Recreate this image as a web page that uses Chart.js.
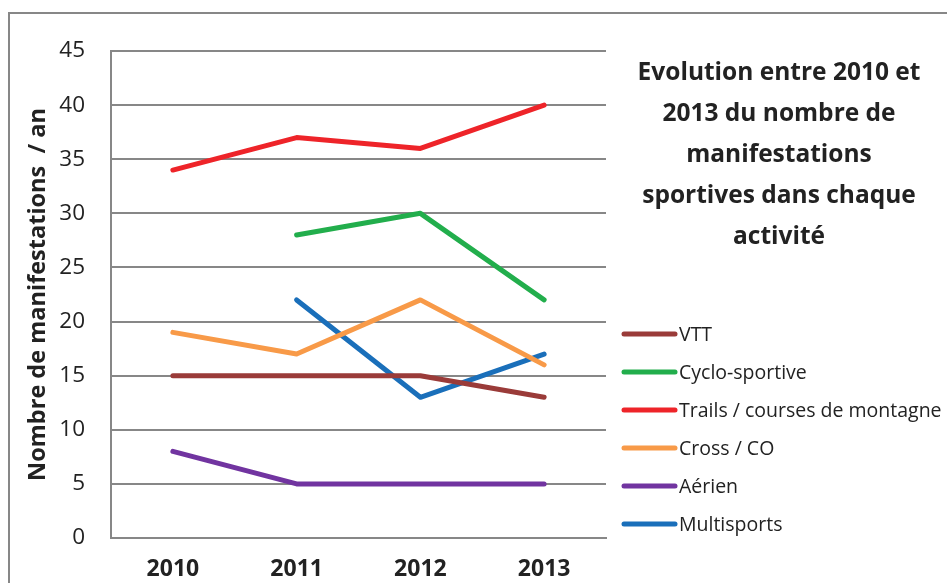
<!DOCTYPE html>
<html>
<head>
<meta charset="utf-8">
<script src="https://cdn.jsdelivr.net/npm/chart.js@4"></script>
<style>
  html, body { margin: 0; padding: 0; background: #fff; }
  #wrap { width: 947px; height: 583px; }
</style>
</head>
<body>
<div id="wrap"><canvas id="chart" width="947" height="583"></canvas></div>
<script>
const years = ['2010', '2011', '2012', '2013'];
const vtt = [15, 15, 15, 13];
const cyclo = [null, 28, 30, 22];
const trails = [34, 37, 36, 40];
const cross = [19, 17, 22, 16];
const aerien = [8, 5, 5, 5];
const multisports = [null, 22, 13, 17];
const yTicks = [0, 5, 10, 15, 20, 25, 30, 35, 40, 45];
const titleLines = [
  'Evolution entre 2010 et',
  '2013 du nombre de',
  'manifestations',
  'sportives dans chaque',
  'activité'
];

const FONT = '"Open Sans", Lato, sans-serif';
const GRID = '#878787';

function series(label, data, color) {
  return {
    label,
    data,
    borderColor: color,
    backgroundColor: color,
    borderWidth: 5,
    borderCapStyle: 'round',
    borderJoinStyle: 'round',
    pointRadius: 0,
    pointHoverRadius: 0,
    tension: 0,
    spanGaps: false
  };
}

// cadre gris, titre et légende à droite
const decor = {
  id: 'decor',
  beforeDraw(chart) {
    const ctx = chart.ctx;
    ctx.save();
    ctx.strokeStyle = GRID;
    ctx.lineWidth = 2;
    ctx.strokeRect(9, 13, 1000, 1000);
    ctx.restore();
  },
  afterDraw(chart) {
    const ctx = chart.ctx;
    ctx.save();
    ctx.fillStyle = '#222';
    ctx.textAlign = 'center';
    ctx.textBaseline = 'middle';
    ctx.font = 'bold 24.5px ' + FONT;
    titleLines.forEach((line, i) => {
      ctx.fillText(line, 779, 73 + i * 41);
    });

    ctx.textAlign = 'left';
    ctx.font = '19.5px ' + FONT;
    chart.data.datasets.forEach((ds, i) => {
      const y = 334 + i * 38;
      ctx.strokeStyle = ds.borderColor;
      ctx.lineWidth = 5;
      ctx.lineCap = 'round';
      ctx.beginPath();
      ctx.moveTo(624, y);
      ctx.lineTo(675, y);
      ctx.stroke();
      ctx.fillStyle = '#222';
      ctx.fillText(ds.label, 679, y + 1);
    });
    ctx.restore();
  }
};

new Chart(document.getElementById('chart'), {
  type: 'line',
  data: {
    labels: years,
    datasets: [
      series('VTT', vtt, '#9A3B39'),
      series('Cyclo-sportive', cyclo, '#22AE4C'),
      series('Trails / courses de montagne', trails, '#EE2429'),
      series('Cross / CO', cross, '#F89A48'),
      series('Aérien', aerien, '#7134A0'),
      series('Multisports', multisports, '#1A6FBA')
    ]
  },
  options: {
    responsive: false,
    animation: false,
    events: [],
    layout: { padding: { left: 10, top: 51, right: 341, bottom: 0 } },
    plugins: {
      legend: { display: false },
      tooltip: { enabled: false }
    },
    scales: {
      x: {
        type: 'category',
        offset: true,
        grid: { display: false, drawTicks: false },
        border: { display: true, color: GRID, width: 2 },
        ticks: {
          color: '#222',
          padding: 18,
          font: { family: FONT, size: 23, weight: 'bold' }
        },
        afterFit(scale) { scale.height = 45; }
      },
      y: {
        min: 0,
        max: 45,
        afterBuildTicks(scale) {
          scale.ticks = yTicks.map((v) => ({ value: v }));
        },
        grid: { color: GRID, lineWidth: 2, drawTicks: false },
        border: { display: true, color: GRID, width: 2 },
        ticks: {
          color: '#222',
          padding: 26,
          font: { family: FONT, size: 22.5 }
        },
        title: {
          display: true,
          text: 'Nombre de manifestations  / an',
          color: '#222',
          padding: { top: 14, bottom: 0 },
          font: { family: FONT, size: 23.5, weight: 'bold' }
        },
        afterFit(scale) { scale.width = 101; }
      }
    }
  },
  plugins: [decor]
});
</script>
</body>
</html>
